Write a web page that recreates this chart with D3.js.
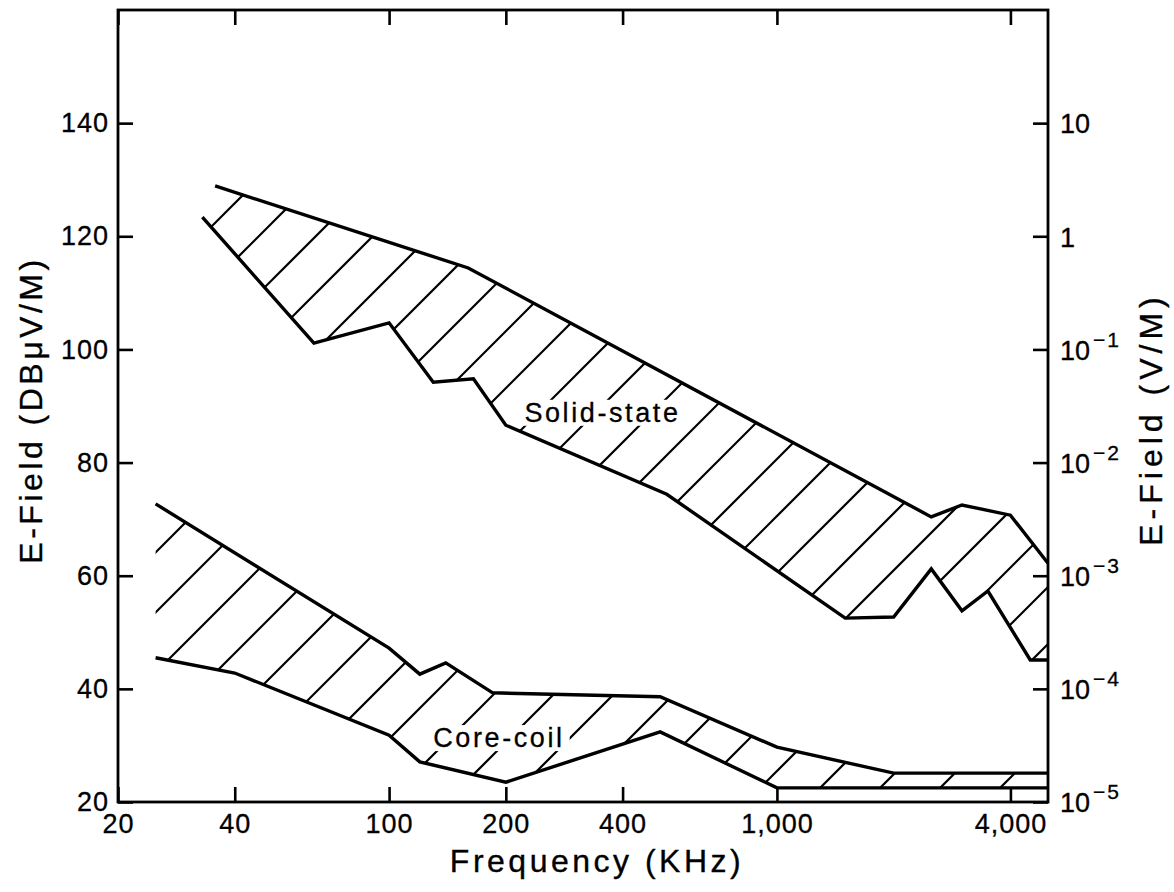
<!DOCTYPE html>
<html><head><meta charset="utf-8">
<script src="https://cdn.jsdelivr.net/npm/d3@7"></script>
<style>
body{margin:0;background:#fff}
text{font-family:"Liberation Sans",Arial,sans-serif;fill:#000}
</style>
</head><body><svg id="chart" width="1174" height="892"></svg>
<script>
// ---- data ----
const xTicks = [20, 40, 100, 200, 400, 1000, 4000];
const xTickLabels = ["20", "40", "100", "200", "400", "1,000", "4,000"];
const yTicks = [20, 40, 60, 80, 100, 120, 140];
const yTickLabels = ["20", "40", "60", "80", "100", "120", "140"];
const rightTickBase = ["10", "10", "10", "10", "10", "1", "10"];
const rightTickExp = ["-5", "-4", "-3", "-2", "-1", "", ""];

const solidUpperFreq = [35.6, 160, 2500, 3000, 4000, 5000];
const solidUpperDb   = [128.9, 114.4, 70.4, 72.5, 70.7, 62.2];
const solidLowerFreq = [33, 64, 100, 130, 165, 200, 520, 1500, 2000, 2500, 3000, 3500, 4500, 5000];
const solidLowerDb   = [123.4, 101.1, 104.7, 94.2, 94.8, 86.6, 74.4, 52.5, 52.7, 61.2, 53.8, 57.3, 45.1, 45.1];

const coreUpperFreq = [25, 100, 120, 140, 185, 500, 1000, 2000, 5000];
const coreUpperDb   = [72.7, 47.2, 42.6, 44.6, 39.3, 38.6, 29.7, 25.1, 25.1];
const coreLowerFreq = [25, 40, 100, 120, 200, 500, 1000, 5000];
const coreLowerDb   = [45.5, 42.8, 31.8, 27.1, 23.5, 32.4, 22.5, 22.5];

const bandLabels = ["Solid-state", "Core-coil"];
const bandLabelFreq = [355, 192];
const bandLabelDb = [88.8, 31.3];

// ---- layout ----
const W = 1174, H = 892;
const m = {left: 118, top: 10, right: 126, bottom: 90};
const FONT = '"Liberation Sans",Arial,sans-serif';
const svg = d3.select("#chart");
const x = d3.scaleLog().domain([20, 5000]).range([m.left, W - m.right]);
const y = d3.scaleLinear().domain([20, 160]).range([H - m.bottom, m.top]);
const defs = svg.append("defs");

const zip = (f, v) => f.map((d, i) => [d, v[i]]);
const line = d3.line().x(d => x(d[0])).y(d => y(d[1]));

function band(id, uf, uv, lf, lv, step, phase) {
  const up = zip(uf, uv), lo = zip(lf, lv);
  const poly = up.concat(lo.slice().reverse());
  defs.append("clipPath").attr("id", id).append("path").attr("d", line(poly) + "Z");
  const g = svg.append("g").attr("clip-path", `url(#${id})`);
  const cs = d3.range(phase - 20 * step, 2200, step);
  g.selectAll("line").data(cs).join("line")
    .attr("x1", k => k).attr("y1", 0).attr("x2", k => k - 1000).attr("y2", 1000)
    .attr("stroke", "#000").attr("stroke-width", 2.2);
  [up, lo].forEach(p => svg.append("path").attr("d", line(p)).attr("fill", "none")
    .attr("stroke", "#000").attr("stroke-width", 3.4).attr("stroke-linejoin", "miter"));
}
band("clipSolid", solidUpperFreq, solidUpperDb, solidLowerFreq, solidLowerDb, 57, 438);
band("clipCore", coreUpperFreq, coreUpperDb, coreLowerFreq, coreLowerDb, 60, 768);

bandLabels.forEach((t, i) => {
  const g = svg.append("g");
  const tx = g.append("text").attr("x", x(bandLabelFreq[i])).attr("y", y(bandLabelDb[i]))
    .attr("text-anchor", "middle").attr("dominant-baseline", "central")
    .attr("font-size", 27).attr("letter-spacing", 2.6)
    .attr("stroke", "#000").attr("stroke-width", 0.3).text(t);
  const bb = tx.node().getBBox();
  g.insert("rect", "text").attr("x", bb.x - 5).attr("y", bb.y + 2).attr("width", bb.width + 10)
    .attr("height", bb.height - 4).attr("fill", "#fff");
});

// axes
const tl = 15;
const axB = svg.append("g").attr("transform", `translate(0,${H - m.bottom})`)
  .call(d3.axisBottom(x).tickValues(xTicks).tickSize(-tl).tickPadding(12)
    .tickFormat((d, i) => xTickLabels[i]));
const axT = svg.append("g").attr("transform", `translate(0,${m.top})`)
  .call(d3.axisTop(x).tickValues(xTicks).tickSize(-tl).tickFormat(""));
const axL = svg.append("g").attr("transform", `translate(${m.left},0)`)
  .call(d3.axisLeft(y).tickValues(yTicks).tickSize(-tl).tickPadding(9)
    .tickFormat((d, i) => yTickLabels[i]));
const axR = svg.append("g").attr("transform", `translate(${W - m.right},0)`)
  .call(d3.axisRight(y).tickValues(yTicks).tickSize(-tl).tickPadding(10).tickFormat(""));

[axB, axT, axL, axR].forEach(a => {
  a.select(".domain").remove();
  a.selectAll(".tick line").attr("stroke", "#000").attr("stroke-width", 2.6);
  a.selectAll("text").attr("font-size", 27).attr("font-family", FONT).attr("fill", "#000")
    .attr("letter-spacing", 1).attr("stroke", "#000").attr("stroke-width", 0.3);
});

axR.selectAll(".tick").each(function(d, i) {
  const t = d3.select(this).append("text").attr("x", 12).attr("dy", "0.36em")
    .attr("font-size", 27).attr("fill", "#000").attr("text-anchor", "start")
    .attr("font-family", FONT).attr("stroke", "#000").attr("stroke-width", 0.3);
  t.append("tspan").text(rightTickBase[i]);
  if (rightTickExp[i]) t.append("tspan").attr("dy", "-0.62em").attr("font-size", 21)
    .attr("dx", 3).attr("letter-spacing", 2).text(rightTickExp[i].replace("-", "\u2212"));
});

// frame
svg.append("rect").attr("x", m.left).attr("y", m.top)
  .attr("width", W - m.left - m.right).attr("height", H - m.top - m.bottom)
  .attr("fill", "none").attr("stroke", "#000").attr("stroke-width", 2.8);

// titles
const title = (sel) => sel.attr("text-anchor", "middle").attr("font-size", 32)
  .attr("letter-spacing", 3.5).attr("stroke", "#000").attr("stroke-width", 0.35);
title(svg.append("text").attr("x", 597).attr("y", 872)).text("Frequency (KHz)");
title(svg.append("text").attr("transform", "translate(42,410) rotate(-90)")).text("E-Field (DBμV/M)");
title(svg.append("text").attr("transform", "translate(1162,419) rotate(-90)"))
  .attr("letter-spacing", 5).text("E-Field (V/M)");
</script></body></html>
